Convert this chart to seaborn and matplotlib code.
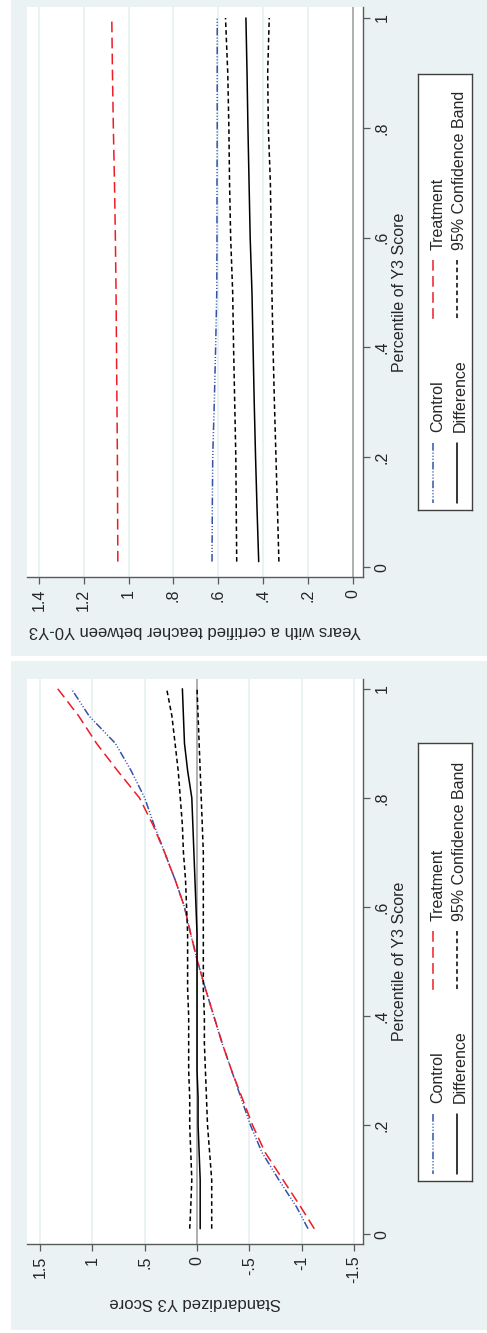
"""
Quantile treatment effect plots (rotated Stata-style layout).

Two panels stacked vertically, each drawn rotated: the outcome runs
horizontally (reversed) and the percentile runs vertically.
"""

import matplotlib
matplotlib.use('Agg')
import matplotlib.pyplot as plt
from matplotlib.patches import Rectangle
import pandas as pd
import seaborn as sns

# ---- data -----------------------------------------------------------------
# lower panel: standardized Y3 score
pct_score = [0.01, 0.05, 0.10, 0.15, 0.20, 0.25, 0.30, 0.35, 0.40, 0.45, 0.50,
             0.55, 0.60, 0.65, 0.70, 0.75, 0.80, 0.85, 0.90, 0.95, 1.00]
score_treatment = [-1.12, -0.99, -0.82, -0.65, -0.53, -0.43, -0.33, -0.24, -0.16, -0.08, -0.005,
                   0.06, 0.12, 0.21, 0.31, 0.42, 0.55, 0.76, 0.96, 1.13, 1.33]
score_control = [-1.06, -0.95, -0.78, -0.62, -0.51, -0.42, -0.33, -0.24, -0.16, -0.08, -0.005,
                 0.06, 0.12, 0.21, 0.31, 0.41, 0.50, 0.63, 0.78, 1.03, 1.20]
score_diff = [-0.03, -0.03, -0.03, -0.02, -0.01, -0.01, 0.0, 0.0, 0.0, 0.0, 0.0,
              0.0, 0.01, 0.02, 0.03, 0.04, 0.05, 0.09, 0.12, 0.13, 0.14]
score_upper = [0.07, 0.06, 0.05, 0.06, 0.07, 0.07, 0.08, 0.08, 0.08, 0.09, 0.09,
               0.09, 0.10, 0.11, 0.13, 0.14, 0.16, 0.18, 0.21, 0.24, 0.29]
score_lower = [-0.14, -0.14, -0.14, -0.12, -0.10, -0.09, -0.08, -0.07, -0.07, -0.06, -0.06,
               -0.06, -0.06, -0.06, -0.06, -0.05, -0.04, -0.03, -0.02, -0.01, 0.0]

# upper panel: years with a certified teacher between Y0-Y3
pct_teacher = [0.01, 0.10, 0.20, 0.30, 0.40, 0.50, 0.60, 0.70, 0.80, 0.90, 1.00]
teacher_treatment = [1.048, 1.049, 1.050, 1.052, 1.054, 1.056, 1.059, 1.063, 1.068, 1.072, 1.075]
teacher_control = [0.628, 0.627, 0.625, 0.618, 0.612, 0.607, 0.606, 0.606, 0.605, 0.605, 0.605]
teacher_diff = [0.420, 0.427, 0.434, 0.440, 0.445, 0.450, 0.458, 0.463, 0.468, 0.472, 0.477]
teacher_upper = [0.518, 0.520, 0.522, 0.527, 0.532, 0.536, 0.545, 0.550, 0.553, 0.558, 0.568]
teacher_lower = [0.330, 0.336, 0.343, 0.350, 0.356, 0.361, 0.364, 0.368, 0.377, 0.380, 0.373]

score_ticks = [1.5, 1, 0.5, 0, -0.5, -1, -1.5]
score_ticklabels = ['1.5', '1', '.5', '0', '-.5', '-1', '-1.5']
teacher_ticks = [1.4, 1.2, 1.0, 0.8, 0.6, 0.4, 0.2, 0]
teacher_ticklabels = ['1.4', '1.2', '1', '.8', '.6', '.4', '.2', '0']
pct_ticks = [0, 0.2, 0.4, 0.6, 0.8, 1.0]
pct_ticklabels = ['0', '.2', '.4', '.6', '.8', '1']

series_labels = ['Control', 'Treatment', 'Difference', '95% Confidence Band']

# ---- styling --------------------------------------------------------------
sns.set_style('white')
plt.rcParams['font.family'] = ['Liberation Sans', 'DejaVu Sans']

W, H = 487, 1333
BG = '#EAF2F3'
GRID = '#E8F0F2'
AXIS = '#5A5A5A'
BLUE = '#3452A8'
RED = '#EE1C25'

STYLES = {
    'Control': dict(color=BLUE, linestyle=(0, (5, 1.3, 0.7, 1.3, 0.7, 1.3, 0.7, 1.3))),
    'Treatment': dict(color=RED, linestyle=(0, (7, 3.5))),
    'Difference': dict(color='black', linestyle='-'),
    '95% Confidence Band': dict(color='black', linestyle=(0, (3, 2))),
}


def fx(x):
    return x / W


def fy(y):
    return 1 - y / H


def draw_legend(fig, top, bottom):
    """Stata-like 2x2 legend, drawn rotated, inside a pixel box."""
    lax = fig.add_axes([fx(418), fy(bottom), (472 - 418) / W, (bottom - top) / H])
    lax.set_xlim(418, 472)
    lax.set_ylim(bottom, top)
    lax.set_xticks([])
    lax.set_yticks([])
    lax.set_facecolor('white')
    for sp in lax.spines.values():
        sp.set_color('#404040')
        sp.set_linewidth(1.0)

    # (label, key x, text x, key start, key end, text start) in pixels from box bottom
    entries = [
        ('Control', 433, 438, 7, 67, 78),
        ('Treatment', 433, 438, 190, 250, 260),
        ('Difference', 457, 460, 7, 67, 78),
        ('95% Confidence Band', 457, 460, 190, 250, 260),
    ]
    for label, kx, tx, k0, k1, t0 in entries:
        key = pd.DataFrame({'x': [kx, kx], 'y': [bottom - k0, bottom - k1]})
        sns.lineplot(data=key, x='x', y='y', ax=lax, orient='y', estimator=None,
                     lw=1.1, **STYLES[label])
        lax.text(tx, bottom - t0, label, rotation=90, ha='center', va='bottom',
                 fontsize=11.5)
    lax.set_xlabel('')
    lax.set_ylabel('')


def draw_panel(fig, bg, plot, xlim, ylim, ticks, ticklabels, pct, series,
               value_title, title_y, legend_box):
    # grey graph region
    fig.add_artist(Rectangle((fx(bg[0]), fy(bg[3])), (bg[2] - bg[0]) / W, (bg[3] - bg[1]) / H,
                             transform=fig.transFigure, facecolor=BG, edgecolor='none',
                             zorder=0))
    left, top, right, bottom = plot
    ax = fig.add_axes([fx(left), fy(bottom), (right - left) / W, (bottom - top) / H])
    ax.set_facecolor('white')

    for t in ticks:
        if t == 0:
            ax.axvline(0, color='#A9A9A9', lw=1.3, zorder=1)
        else:
            ax.axvline(t, color=GRID, lw=1.2, zorder=1)

    for label, vals in zip(series_labels[:3], series[:3]):
        df = pd.DataFrame({'value': vals, 'pct': pct})
        sns.lineplot(data=df, x='value', y='pct', ax=ax, orient='y', estimator=None,
                     lw=1.1, zorder=3, **STYLES[label])
    for vals in series[3:]:
        df = pd.DataFrame({'value': vals, 'pct': pct})
        sns.lineplot(data=df, x='value', y='pct', ax=ax, orient='y', estimator=None,
                     lw=1.1, zorder=3, **STYLES['95% Confidence Band'])

    ax.set_xlim(*xlim)
    ax.set_ylim(*ylim)
    ax.set_xlabel('')
    ax.set_ylabel('')

    ax.set_xticks(ticks)
    ax.set_xticklabels(ticklabels)
    ax.yaxis.tick_right()
    ax.set_yticks(pct_ticks)
    ax.set_yticklabels(pct_ticklabels)
    ax.tick_params(axis='x', bottom=True, direction='out', length=5, width=0.9,
                   color=AXIS, pad=3.5, labelsize=11.5, labelrotation=90)
    ax.tick_params(axis='y', right=True, left=False, labelright=True, labelleft=False,
                   direction='out', length=5, width=0.9, color=AXIS, pad=3.5,
                   labelsize=11.5, labelrotation=90)
    for lab in ax.get_yticklabels():
        lab.set_va('center')

    for side in ('top', 'left'):
        ax.spines[side].set_visible(False)
    for side in ('bottom', 'right'):
        ax.spines[side].set_color(AXIS)
        ax.spines[side].set_linewidth(1.0)

    fig.text(fx(195), fy(title_y), value_title, rotation=180,
             ha='center', va='center', fontsize=12)
    fig.text(fx(400), fy((top + bottom) / 2), 'Percentile of Y3 Score', rotation=90,
             ha='center', va='center', fontsize=11.5)

    draw_legend(fig, *legend_box)


def main():
    fig = plt.figure(figsize=(W / 100, H / 100), dpi=100)
    fig.patch.set_facecolor('white')

    # upper panel: teacher certification
    draw_panel(fig, bg=(11, 0, 487, 656), plot=(27, 7, 363, 577),
               xlim=(1.453, -0.045), ylim=(-0.018, 1.02),
               ticks=teacher_ticks, ticklabels=teacher_ticklabels, pct=pct_teacher,
               series=[teacher_control, teacher_treatment, teacher_diff,
                       teacher_upper, teacher_lower],
               value_title='Years with a certified teacher between Y0-Y3', title_y=630,
               legend_box=(74, 510))

    # lower panel: standardized score
    draw_panel(fig, bg=(11, 661, 487, 1330), plot=(27, 679, 363, 1244),
               xlim=(1.624, -1.585), ylim=(-0.018, 1.018),
               ticks=score_ticks, ticklabels=score_ticklabels, pct=pct_score,
               series=[score_control, score_treatment, score_diff,
                       score_upper, score_lower],
               value_title='Standardized Y3 Score', title_y=1302,
               legend_box=(743, 1181))

    fig.savefig('out.png', dpi=100, facecolor='white')
    plt.close(fig)


if __name__ == '__main__':
    main()
